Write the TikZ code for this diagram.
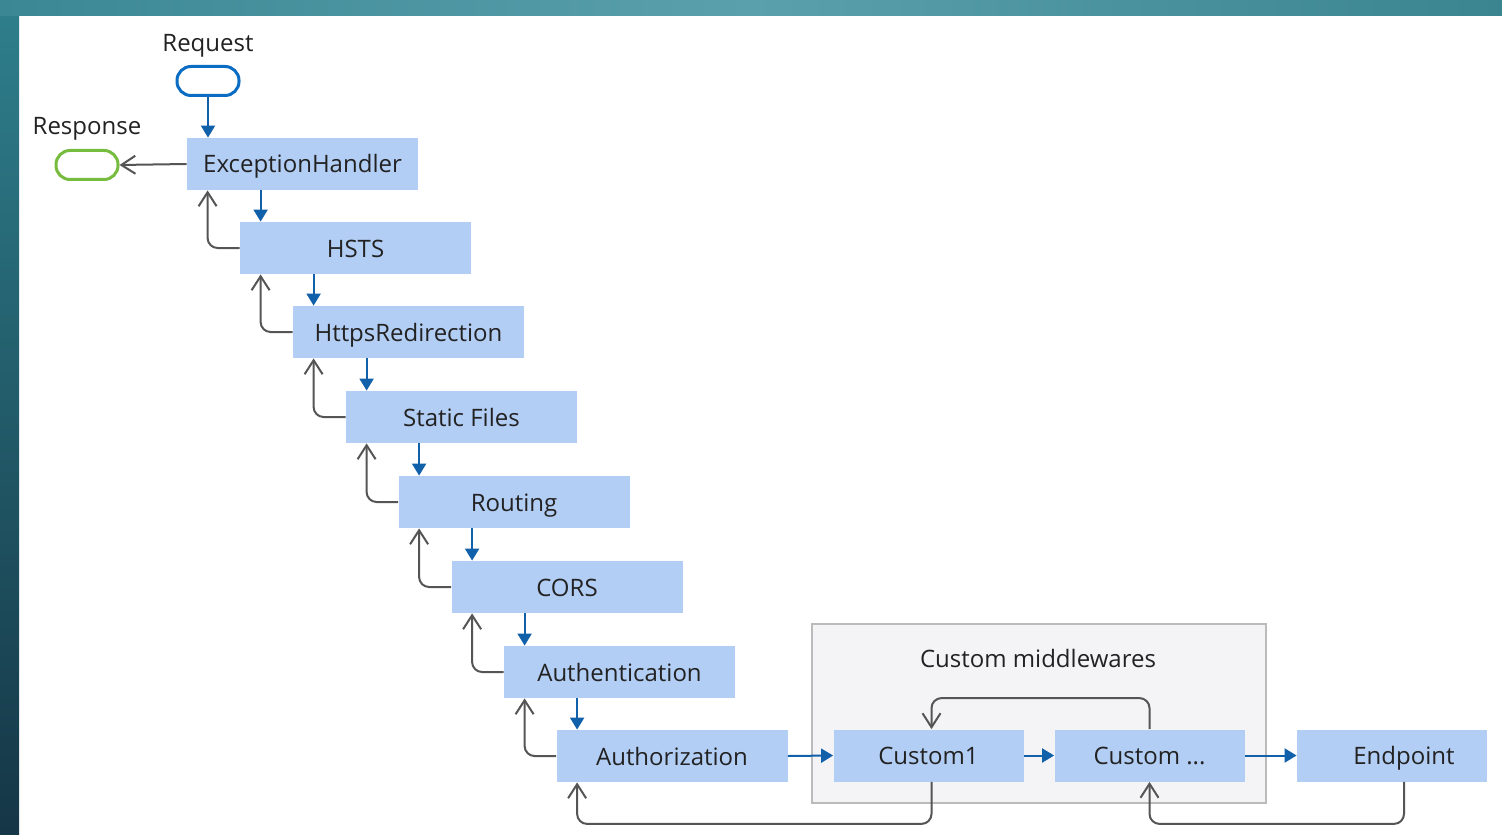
\documentclass[tikz,border=0pt]{standalone}
\usepackage{fontspec}
\setmainfont{Open Sans}
\usetikzlibrary{arrows.meta}
\definecolor{boxfill}{HTML}{B3CEF5}
\definecolor{flowblue}{HTML}{1160AA}
\definecolor{retgray}{HTML}{555555}
\definecolor{reqblue}{HTML}{0B6CC4}
\definecolor{respgreen}{HTML}{77BC3F}
\definecolor{grpfill}{HTML}{F4F3F6}
\definecolor{grpline}{HTML}{BBBBBB}
\definecolor{txt}{HTML}{222222}
\definecolor{tealA}{HTML}{3B8894}
\definecolor{tealB}{HTML}{5A9FAC}
\definecolor{tealC}{HTML}{3A8590}
\definecolor{tealD}{HTML}{2F7F8C}
\definecolor{tealE}{HTML}{153646}
\begin{document}
\begin{tikzpicture}[x=0.5pt,y=-0.5pt,
  every node/.style={font=\fontsize{12pt}{14pt}\selectfont, text=txt, text height=9.5pt, text depth=0.5pt},
  mw/.style={rectangle, fill=boxfill, minimum width=115.5pt, minimum height=26pt, inner sep=0pt},
  cw/.style={rectangle, fill=boxfill, minimum width=95pt, minimum height=26pt, inner sep=0pt},
  pill/.style={rectangle, rounded corners=7pt, line width=1.5pt, fill=white, minimum width=31pt, minimum height=14.5pt, inner sep=0pt},
  flow/.style={draw=flowblue, line width=1pt, -{Triangle[width=7pt,length=6pt]}},
  ret/.style={draw=retgray, line width=1pt, rounded corners=5pt, -{Straight Barb[width=9pt,length=7pt,line width=1pt]}},
  group/.style={rectangle, fill=grpfill, draw=grpline, line width=0.8pt, inner sep=0pt}
]
\useasboundingbox (0,0) rectangle (1502,834);
\fill[white] (0,0) rectangle (1502,834);
\shade[top color=tealD, bottom color=tealE] (0,0) rectangle (19,834);
\shade[left color=tealA, right color=tealC, middle color=tealB] (0,0) rectangle (1502,16);

% group box
\node[group, minimum width=227pt, minimum height=89.5pt] (grp) at (1039,713.5) {};
\node (grplabel) at (1038,658) {Custom middlewares};

% pills and labels
\node (reqlabel) at (208,43) {Request};
\node[pill, draw=reqblue] (req) at (208,81) {};
\node (resplabel) at (87,126) {Response};
\node[pill, draw=respgreen] (resp) at (87,165) {};

% middleware boxes
\node[mw] (eh) at (302.5,164) {ExceptionHandler};
\node[mw] (hsts) at (355.5,248) {HSTS};
\node[mw] (https) at (408.5,332) {HttpsRedirection};
\node[mw] (static) at (461.5,417) {Static Files};
\node[mw] (routing) at (514,502) {Routing};
\node[mw] (cors) at (567,587) {CORS};
\node[mw] (authn) at (619.5,672) {Authentication};
\node[mw] (authz) at (672,756) {Authorization};
\node[cw] (c1) at (928.5,755.5) {Custom1};
\node[cw] (cn) at (1149.5,755.5) {Custom ...};
\node[cw] (ep) at (1392,755.5) {\hspace*{12pt}Endpoint};

% request / response
\draw[flow] (req.south) -- (req.south |- eh.north);
\draw[ret] (eh.west) -- (resp.east);

% down arrows and return arrows
\foreach \a/\b in {eh/hsts, hsts/https, https/static, static/routing, routing/cors, cors/authn, authn/authz} {
  \draw[flow] ([xshift=10.5pt]\b.west |- \a.south) -- ([xshift=10.5pt]\b.north west);
  \draw[ret] (\b.west) -| ([xshift=10.5pt]\a.south west);
}

% horizontal flow
\draw[flow] (authz.east) -- (c1.west);
\draw[flow] (c1.east) -- (cn.west);
\draw[flow] (cn.east) -- (ep.west);

% returns in the custom area
\draw[ret] (cn.north) -- ++(0,-31) -| ([xshift=1.5pt]c1.north);
\draw[ret] ([xshift=1.5pt]c1.south) -- ++(0,42) -| ([xshift=10.5pt]authz.south west);
\draw[ret] ([xshift=6pt]ep.south) -- ++(0,42) -| (cn.south);
\end{tikzpicture}
\end{document}
